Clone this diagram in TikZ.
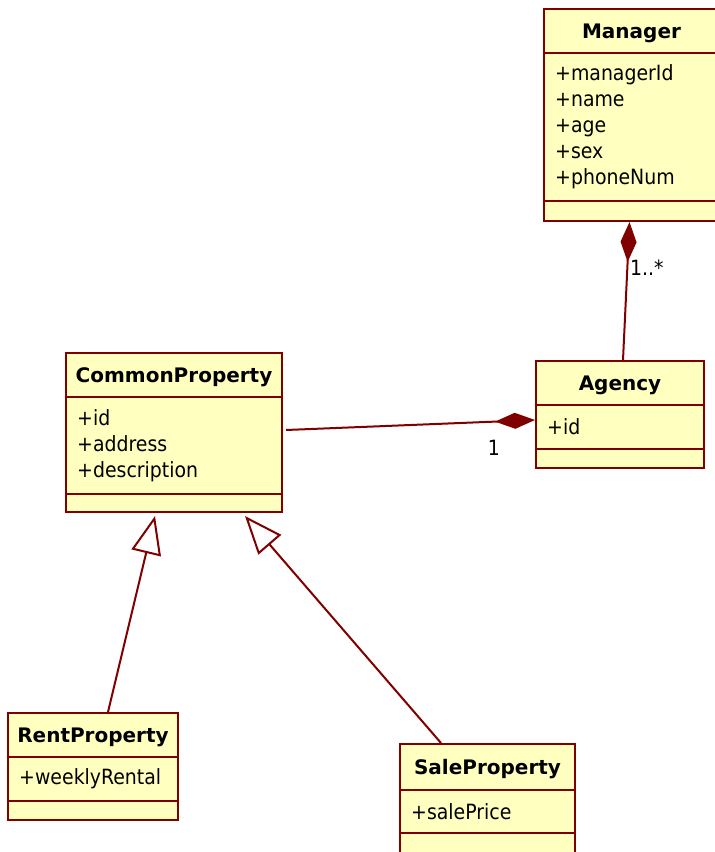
\documentclass[tikz,border=0pt]{standalone}
\usepackage{fontspec}
\setmainfont{DejaVu Sans}
\newfontfamily\condfont{DejaVu Sans Condensed}
\usetikzlibrary{arrows.meta, calc}
\definecolor{umlred}{HTML}{800000}
\definecolor{umlfill}{HTML}{FFFFC0}

\tikzset{
  classbox/.style={draw=umlred, fill=umlfill, line width=2pt, inner sep=0pt},
  compline/.style={draw=umlred, line width=2pt},
  classtitle/.style={font=\fontsize{20}{20}\selectfont\bfseries, inner sep=0pt, text height=19pt, text depth=3.5pt},
  attrlist/.style={font=\fontsize{21}{26}\selectfont\condfont, align=left, anchor=west, inner sep=0pt},
  assoc/.style={umlred, line width=2pt},
  composite/.style={assoc, -{Diamond[length=40pt, width=16pt]}},
  inherits/.style={assoc, -{Triangle[open, length=38pt, width=30pt]}},
  mult/.style={font=\fontsize{21}{20}\selectfont\condfont, inner sep=0pt}
}

% class box: name, left, top, right, title line, attribute line, bottom, title, attributes
\newcommand{\umlclass}[9]{%
  \node[classbox, minimum width={(#4-#2)*1pt}, minimum height={(#7-#3)*1pt}] (#1) at ({(#2+#4)/2},{(#3+#7)/2}) {};
  \draw[compline] (#2,#5) -- (#4,#5);
  \draw[compline] (#2,#6) -- (#4,#6);
  \node[classtitle] (#1-title) at ({(#2+#4)/2},{(#3+#5)/2}) {#8};
  \node[attrlist] (#1-attrs) at ({#2+11},{(#5+#6)/2}) {#9};
}

\begin{document}
\begin{tikzpicture}[x=1pt, y=-1pt]
  \fill[white] (0,0) rectangle (715,852);
  \useasboundingbox (0,0) rectangle (715,852);

  % classes
  \umlclass{manager}{544}{9}{719}{53}{201}{221}{Manager}{+managerId\\+name\\+age\\+sex\\+phoneNum}
  \umlclass{agency}{536}{361}{704}{405}{449}{468}{Agency}{+id}
  \umlclass{common}{66}{353}{282}{397}{494}{512}{CommonProperty}{+id\\+address\\+description}
  \umlclass{rent}{8}{713}{178}{757}{801}{820}{RentProperty}{+weeklyRental}
  \umlclass{sale}{400}{744}{575}{790}{833}{856}{SaleProperty}{+salePrice}

  % compositions
  \draw[composite] ([xshift=3pt]agency.north) -- ([xshift=-2pt]manager.south);
  \node[mult, anchor=west] (many) at (630,268) {1..*};

  \draw[composite] ([xshift=3pt, yshift=2.5pt]common.east) -- ([yshift=-5.5pt]agency.west);
  \node[mult] (one) at (494,448) {1};

  % generalizations
  \draw[inherits] ([xshift=15pt]rent.north) -- ([xshift=-19pt, yshift=-3pt]common.south);
  \draw[inherits] ([xshift=-46.5pt]sale.north) -- ([xshift=71pt, yshift=-3pt]common.south);
\end{tikzpicture}
\end{document}
